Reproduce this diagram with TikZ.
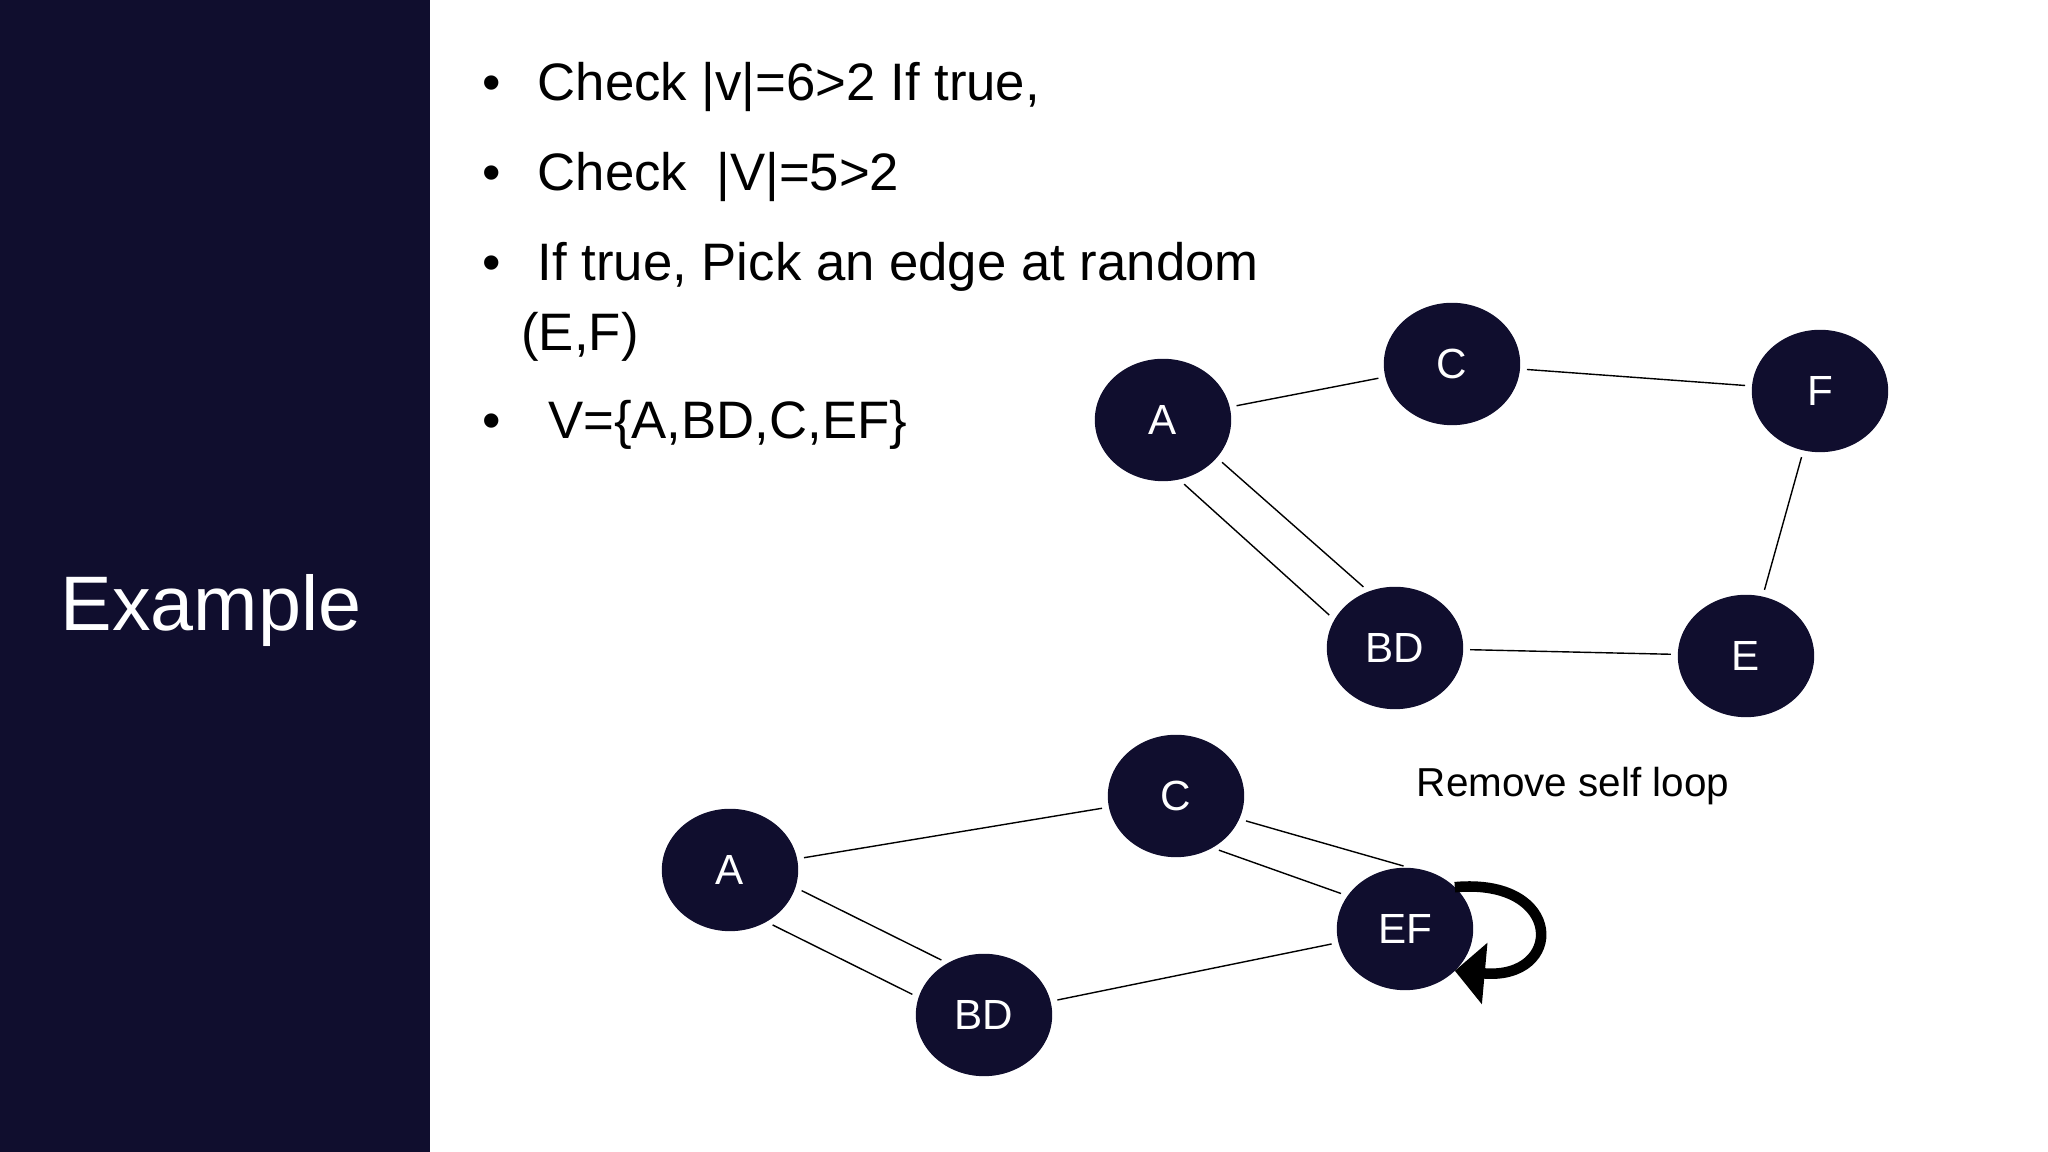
\documentclass[tikz,border=0pt]{standalone}
\usepackage{fontspec}
\setmainfont{Liberation Sans}
\usetikzlibrary{arrows.meta, positioning, shapes.geometric}
\definecolor{navy}{HTML}{100E2E}
\begin{document}
\begin{tikzpicture}[
		vertex/.style={draw=navy, ellipse, fill=navy, minimum width=13.5mm, minimum height=12.1mm, text=white, font=\large},
		edge/.style={thin, black, shorten <=2pt, shorten >=2pt},
		bullet/.style={anchor=west, font=\fontsize{15}{18}\selectfont, text=black}
		]
		\useasboundingbox (0,0) rectangle (20.48,11.52);
		\fill[navy] (0,0) rectangle (4.30,11.52);
		\node[text=white, font=\fontsize{22}{26}\selectfont] (title) at (2.11,5.41) {Example};
		% Bullet list
		\node[bullet] (b1) at (4.70,10.65) {\textbullet\hspace{0.7em}Check |v|=6>2 If true,};
		\node[bullet] (b2) at (4.70,9.75) {\textbullet\hspace{0.7em}Check\ \ |V|=5>2};
		\node[bullet] (b3) at (4.70,8.85) {\textbullet\hspace{0.7em}If true, Pick an edge at random};
		\node[bullet] (b3b) at (5.09,8.15) {(E,F)};
		\node[bullet] (b4) at (4.70,7.27) {\textbullet\hspace{0.9em}V=\{A,BD,C,EF\}};
		% Top graph
		\node[vertex] (A1) at (11.63,7.32) {A};
		\node[vertex] (C1) at (14.52,7.88) {C};
		\node[vertex] (F1) at (18.20,7.61) {F};
		\node[vertex] (BD1) at (13.95,5.04) {BD};
		\node[vertex] (E1) at (17.46,4.96) {E};
		\draw[edge] (A1) -- (C1);
		\draw[edge] (C1) -- (F1);
		\draw[edge] (F1) -- (E1);
		\draw[edge] (BD1) -- (E1);
		\draw[edge] (A1.-35) -- (BD1.115);
		\draw[edge] (A1.-75) -- (BD1.155);
		% Bottom graph
		\node[vertex] (A2) at (7.30,2.82) {A};
		\node[vertex] (C2) at (11.76,3.56) {C};
		\node[vertex] (EF2) at (14.05,2.23) {EF};
		\node[vertex] (BD2) at (9.84,1.37) {BD};
		\draw[edge] (A2) -- (C2);
		\draw[edge] (BD2) -- (EF2);
		\draw[edge] (A2.-15) -- (BD2.125);
		\draw[edge] (A2.-55) -- (BD2.165);
		\draw[edge] (C2.-20) -- (EF2.85);
		\draw[edge] (C2.-55) -- (EF2.150);
		% Self loop
		\draw[line width=3pt, -{Triangle[length=3mm, width=6mm]}] (EF2.40) .. controls +(1.1,0.1) and +(1.1,-0.1) .. (EF2.-40);
		\node[font=\fontsize{11.5}{14}\selectfont] (note) at (15.73,3.66) {Remove self loop};
	\end{tikzpicture}
\end{document}
